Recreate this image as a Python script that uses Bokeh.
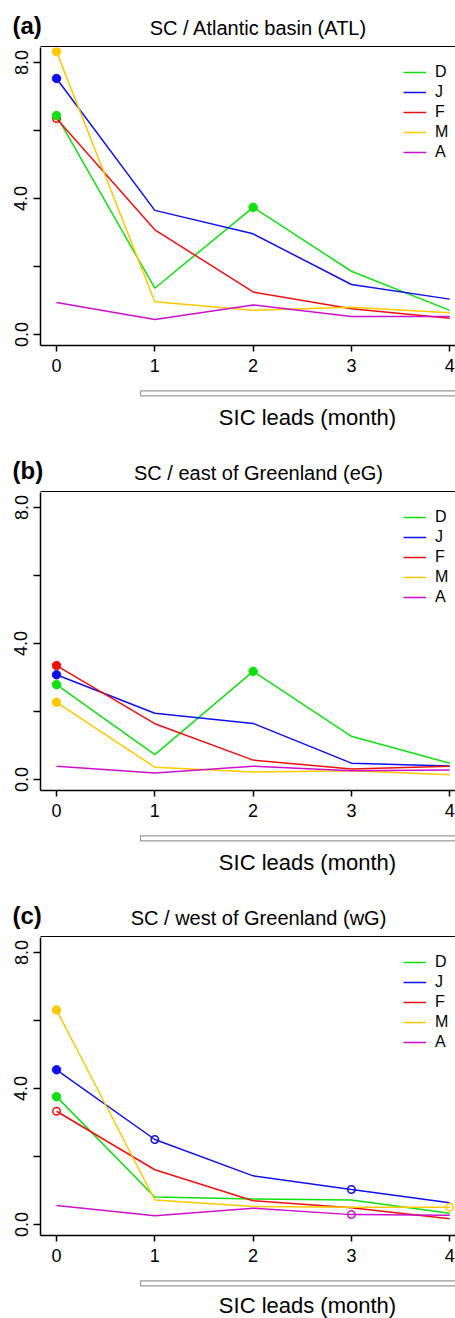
from bokeh.plotting import figure
from bokeh.models import Range1d, LinearAxis, FixedTicker, Legend, LegendItem
from bokeh.layouts import column
from bokeh.embed import file_html
from bokeh.resources import INLINE
from bokeh.core.properties import value

# ---------------- data ----------------
leads = [0, 1, 2, 3, 4]
months = ["D", "J", "F", "M", "A"]

panel_letters = ["(a)", "(b)", "(c)"]
panel_titles = ["SC / Atlantic basin (ATL)", "SC / east of Greenland (eG)", "SC / west of Greenland (wG)"]

atl_D = [6.44, 1.36, 3.74, 1.86, 0.71]
atl_J = [7.53, 3.65, 2.96, 1.47, 1.04]
atl_F = [6.35, 3.08, 1.25, 0.76, 0.48]
atl_M = [8.32, 0.96, 0.71, 0.80, 0.64]
atl_A = [0.94, 0.44, 0.87, 0.53, 0.53]

eg_D = [2.79, 0.73, 3.18, 1.27, 0.48]
eg_J = [3.08, 1.95, 1.65, 0.48, 0.40]
eg_F = [3.35, 1.64, 0.57, 0.31, 0.39]
eg_M = [2.27, 0.36, 0.22, 0.26, 0.14]
eg_A = [0.39, 0.19, 0.39, 0.26, 0.28]

wg_D = [3.76, 0.81, 0.75, 0.72, 0.33]
wg_J = [4.55, 2.50, 1.43, 1.03, 0.64]
wg_F = [3.33, 1.61, 0.70, 0.49, 0.17]
wg_M = [6.31, 0.72, 0.53, 0.51, 0.51]
wg_A = [0.56, 0.26, 0.48, 0.29, 0.27]

# significance markers: (month, lead)
atl_filled = [("D", 0), ("J", 0), ("M", 0), ("D", 2)]
atl_open = [("F", 0)]
eg_filled = [("D", 0), ("J", 0), ("F", 0), ("M", 0), ("D", 2)]
eg_open = []
wg_filled = [("D", 0), ("J", 0), ("M", 0)]
wg_open = [("F", 0), ("J", 1), ("J", 3), ("A", 3), ("M", 4)]

y_ticks = [0, 2, 4, 6, 8]
y_tick_labels = {0: "0.0", 2: "", 4: "4.0", 6: "", 8: "8.0"}
x_label = "SIC leads (month)"

colors = {"D": "#10E010", "J": "#1010EE", "F": "#EE1010", "M": "#FFC800", "A": "#CC10CC"}
FONT = "Liberation Sans"

panels = [
    dict(series={"D": atl_D, "J": atl_J, "F": atl_F, "M": atl_M, "A": atl_A}, filled=atl_filled, open=atl_open),
    dict(series={"D": eg_D, "J": eg_J, "F": eg_F, "M": eg_M, "A": eg_A}, filled=eg_filled, open=eg_open),
    dict(series={"D": wg_D, "J": wg_J, "F": wg_F, "M": wg_M, "A": wg_A}, filled=wg_filled, open=wg_open),
]


def blank(h):
    p = figure(width=455, height=h, x_range=Range1d(0, 455), y_range=Range1d(-h, 0),
               x_axis_location=None, y_axis_location=None, min_border=0,
               output_backend="svg", toolbar_location=None)
    p.frame_align = False
    p.grid.visible = False
    p.outline_line_color = None
    return p


def header(letter, title):
    h = 47
    p = blank(h)
    p.text(x=[12], y=[-25], text=[letter], text_font=value(FONT), text_font_style="bold",
           text_font_size="24px", text_baseline="middle", text_align="left", text_color="black")
    p.text(x=[258], y=[-27.5], text=[title], text_font=value(FONT),
           text_font_size="20px", text_baseline="middle", text_align="center", text_color="black")
    p.segment(x0=[40], x1=[456], y0=[-46.25], y1=[-46.25], line_width=1.5, line_color="black")
    return p


def footer(h, label_y):
    p = blank(h)
    p.quad(left=[140], right=[470], top=[-8.3], bottom=[-13.3], fill_color="white",
           line_color="#999999", line_width=1.2)
    p.text(x=[307], y=[label_y], text=[x_label], text_font=value(FONT), text_font_size="22px",
           text_baseline="middle", text_align="center", text_color="black")
    return p


def main(panel):
    p = figure(width=455, height=335, x_range=Range1d(-0.163, 4.059), y_range=Range1d(-0.324, 8.441),
               x_axis_location=None, y_axis_location=None,
               min_border_left=40, min_border_right=0, min_border_top=0, min_border_bottom=37,
               output_backend="svg", toolbar_location=None)
    p.frame_align = False
    p.grid.visible = False
    p.outline_line_color = None

    yax = LinearAxis(ticker=FixedTicker(ticks=y_ticks), major_label_overrides=y_tick_labels)
    yax.major_label_orientation = "vertical"
    yax.major_tick_out = 7
    yax.major_tick_in = 0
    yax.major_label_standoff = 6
    xax = LinearAxis(ticker=FixedTicker(ticks=leads))
    xax.major_tick_out = 6
    xax.major_tick_in = 0
    xax.major_label_standoff = 7
    for ax in (yax, xax):
        ax.axis_line_width = 1.5
        ax.major_tick_line_width = 1.5
        ax.minor_tick_line_color = None
        ax.major_label_text_font = FONT
        ax.major_label_text_font_size = "18px"
        ax.major_label_text_color = "black"
    p.add_layout(yax, "left")
    p.add_layout(xax, "below")

    items = []
    for m in months:
        r = p.line(leads, panel["series"][m], line_color=colors[m], line_width=1.5)
        items.append(LegendItem(label=m, renderers=[r]))

    for (m, k) in panel["open"]:
        p.scatter([leads[k]], [panel["series"][m][k]], marker="circle", size=7.5,
                  fill_color=None, line_color=colors[m], line_width=1.5)
    for (m, k) in panel["filled"]:
        p.scatter([leads[k]], [panel["series"][m][k]], marker="circle", size=8.5,
                  fill_color=colors[m], line_color=colors[m], line_width=1)

    legend = Legend(items=items, location=(363, 183), glyph_width=23, glyph_height=20,
                    label_height=20, label_standoff=9, spacing=0, padding=0, margin=0,
                    border_line_color=None, background_fill_alpha=0,
                    label_text_font=FONT, label_text_font_size="16px", label_text_color="black")
    p.add_layout(legend)
    return p


figs = []
for i, panel in enumerate(panels):
    figs.append(header(panel_letters[i], panel_titles[i]))
    figs.append(main(panel))
    if i < 2:
        figs.append(footer(63, -35))
    else:
        figs.append(footer(46, -33))

layout = column(*figs, spacing=0)
open("out.html", "w").write(file_html(layout, INLINE))
